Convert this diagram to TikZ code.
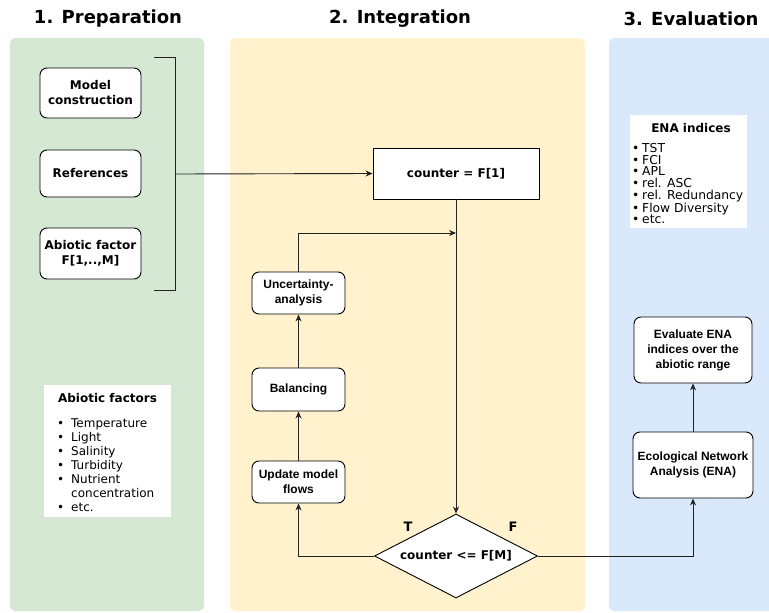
\documentclass[tikz,border=0pt]{standalone}
\usepackage{fontspec}
\setmainfont{DejaVu Sans}
\newfontfamily\arialf{Liberation Sans}
\usetikzlibrary{shapes.geometric,arrows.meta}
\definecolor{pgreen}{HTML}{D5E8D4}
\definecolor{pyellow}{HTML}{FFF2CC}
\definecolor{pblue}{HTML}{DAE8FC}
\definecolor{lnc}{HTML}{222222}
\newcommand{\bitm}[2]{\makebox[#1][l]{\textbullet}#2}
\tikzset{
  panel/.style={rounded corners=5pt},
  ttl/.style={font=\fontsize{18}{20}\selectfont\bfseries},
  vbox/.style={draw=black, line width=0.9pt, fill=white, rounded corners=7pt, align=center, font=\fontsize{12}{15}\selectfont\bfseries, inner sep=0pt},
  abox/.style={draw=black, line width=0.9pt, fill=white, rounded corners=7pt, align=center, font=\arialf\fontsize{12}{15}\selectfont\bfseries, inner sep=0pt},
  wbox/.style={fill=white, inner sep=0pt},
  conn/.style={draw=lnc, line width=0.9pt},
  arr/.style={conn, -{Stealth[length=7pt,width=6pt]}},
  lbl/.style={font=\fontsize{13}{15}\selectfont\bfseries}
}
\begin{document}
\begin{tikzpicture}[x=1pt,y=-1pt]
\useasboundingbox (0,0) rectangle (769,613);
\clip (0,0) rectangle (769,613);
% panels
\fill[pgreen, panel] (10,38) rectangle (204,611);
\fill[pyellow, panel] (230,38) rectangle (585,611);
\fill[pblue, panel] (609,38) rectangle (790,611);
% titles
\node[ttl] (t1) at (108,18.5) {1. Preparation};
\node[ttl] (t2) at (400,18.5) {2. Integration};
\node[ttl] (t3) at (691,18.5) {3. Evaluation};
% preparation boxes
\node[vbox, minimum width=101pt, minimum height=50pt] (mc) at (90.5,93) {Model\\construction};
\node[vbox, minimum width=101pt, minimum height=47pt] (ref) at (90.5,173.5) {References};
\node[vbox, minimum width=101pt, minimum height=51pt] (abf) at (90.5,253.5) {Abiotic factor\\F[1,..,M]};
% bracket
\coordinate (b1) at (154,57);
\coordinate (b2) at (175,57);
\coordinate (b3) at (175,290);
\coordinate (b4) at (154,290);
\coordinate (bm) at (175,174);
\draw[conn] (b1) -- (b2) -- (b3) -- (b4);
% abiotic factors list
\node[wbox, minimum width=127pt, minimum height=132pt] (afl) at (107.5,451) {};
\node[font=\fontsize{12}{14}\selectfont\bfseries] (aft) at (107.5,398) {Abiotic factors};
\node[anchor=north west, inner sep=0pt, align=left, font=\fontsize{12}{14}\selectfont] (afi) at (57,418.5) {%
\bitm{14pt}{Temperature}\\
\bitm{14pt}{Light}\\
\bitm{14pt}{Salinity}\\
\bitm{14pt}{Turbidity}\\
\bitm{14pt}{Nutrient}\\
\hspace*{14pt}concentration\\
\bitm{14pt}{etc.}};
% integration
\node[vbox, rounded corners=0pt, minimum width=166pt, minimum height=51pt] (cnt) at (456,173.5) {counter = F[1]};
\node[diamond, aspect=1.94, draw=black, line width=0.9pt, fill=white, minimum width=163pt, minimum height=84pt, inner sep=0pt, font=\fontsize{12}{15}\selectfont\bfseries] (dia) at (456,556) {counter <= F[M]};
\node[abox, minimum width=93pt, minimum height=42pt] (unc) at (298.5,293) {Uncertainty-\\analysis};
\node[abox, minimum width=93pt, minimum height=43pt] (bal) at (298.5,389.5) {Balancing};
\node[abox, minimum width=93pt, minimum height=42pt] (upd) at (298.5,482) {Update model\\flows};
\node[lbl] (lt) at (408,527) {T};
\node[lbl] (lf) at (513,527) {F};
\coordinate (join) at (456,233);
% evaluation
\node[wbox, minimum width=117pt, minimum height=113pt] (enl) at (688.5,171.5) {};
\node[font=\fontsize{12}{14}\selectfont\bfseries] (ent) at (691,128) {ENA indices};
\node[anchor=north west, inner sep=0pt, align=left, font=\fontsize{12.3}{11.7}\selectfont] (eni) at (632,143) {%
\bitm{10pt}{TST}\\
\bitm{10pt}{FCI}\\
\bitm{10pt}{APL}\\
\bitm{10pt}{rel. ASC}\\
\bitm{10pt}{rel. Redundancy}\\
\bitm{10pt}{Flow Diversity}\\
\bitm{10pt}{etc.}};
\node[abox, minimum width=118pt, minimum height=66pt] (eva) at (693,350) {Evaluate ENA\\indices over the\\abiotic range};
\node[abox, minimum width=120pt, minimum height=66pt] (ena) at (693,465) {Ecological Network\\Analysis (ENA)};
% connectors
\draw[arr] (bm) -- (cnt.west);
\draw[arr] (cnt.south) -- (dia.north);
\draw[arr] (dia.west) -| (upd.south);
\draw[arr] (upd.north) -- (bal.south);
\draw[arr] (bal.north) -- (unc.south);
\draw[arr] (unc.north) |- (join);
\draw[arr] (dia.east) -| (ena.south);
\draw[arr] (ena.north) -- (eva.south);
\end{tikzpicture}
\end{document}
